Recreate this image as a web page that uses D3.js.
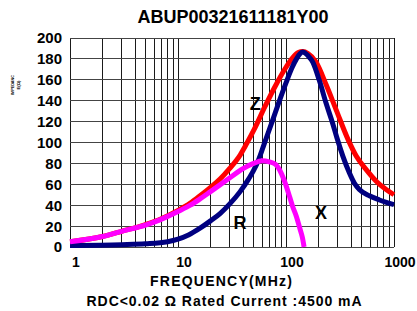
<!DOCTYPE html>
<html>
<head>
<meta charset="utf-8">
<script src="https://cdn.jsdelivr.net/npm/d3@7"></script>
<style>
  html, body { margin: 0; padding: 0; background: #fff; }
  svg { display: block; font-family: "Liberation Sans", Arial, sans-serif; }
</style>
</head>
<body>
<svg id="chart" width="417" height="311"></svg>
<script>
// ---- data ----
const title = "ABUP00321611181Y00";
const xTickValues = [1, 10, 100, 1000];
const xTickLabels = ["1", "10", "100", "1000"];
const yTickValues = [0, 20, 40, 60, 80, 100, 120, 140, 160, 180, 200];

// Z (impedance) curve  [MHz, ohm]
const zFreq = [1, 2, 3, 5, 7, 10, 13, 16, 20, 24.5, 30, 37.6, 43, 51, 63.6, 81.5, 100, 115, 130, 143, 160, 190, 236, 292, 375, 447, 553, 684, 846, 1000];
const zVal  = [5, 10, 15, 21.5, 27, 35, 42, 49, 57, 65, 75, 88, 98.5, 113, 134, 156, 172, 181, 186, 187, 185, 177, 155, 131, 103, 87, 74, 63, 55, 50];

// X (reactance) curve
const xFreq = [1, 3, 5, 8, 10, 12.5, 16, 20, 24.5, 30, 37.6, 45, 50, 56, 63, 75, 87, 100, 113, 125, 135, 143, 160, 177, 204, 236, 271, 297, 336, 386, 430, 478, 592, 733, 1000];
const xVal  = [1.5, 2.2, 3, 5, 7.5, 11.5, 18, 25, 32, 41, 53, 65, 73, 84, 99, 121, 140, 157, 171, 180, 185, 186.5, 183, 177, 159, 137, 118, 104, 87, 71, 61, 55, 49, 45, 40.5];

// R (resistance) curve
const rFreq = [1, 2, 3, 5, 6.8, 10, 13, 16, 20, 30, 40, 50, 60, 70, 80, 90, 100, 108, 115, 125, 135, 142, 147];
const rVal  = [5, 10, 15, 21, 26, 34, 40, 46, 53, 66, 75, 80, 82.5, 81.5, 79, 71, 59, 48, 39, 29, 17, 8.8, 0];

const curveLabels = [
  { text: "Z", f: 52, v: 137 },
  { text: "R", f: 37.5, v: 23 },
  { text: "X", f: 211, v: 33 }
];

// ---- layout ----
const svg = d3.select("#chart");
const mLeft = 70, mRight = 394, mTop = 38, mBottom = 247;
const font = "'Liberation Sans', Arial, sans-serif";

const x = d3.scaleLog().domain([1, 1000]).range([mLeft, mRight]);
const y = d3.scaleLinear().domain([0, 200]).range([mBottom, mTop]);

// grid: vertical log minor lines
const vGrid = [];
for (let k = 0; k < 3; k++) for (let m = 1; m < 10; m++) vGrid.push(m * Math.pow(10, k));
vGrid.push(1000);

svg.append("g").selectAll("line").data(vGrid).join("line")
  .attr("x1", d => x(d)).attr("x2", d => x(d))
  .attr("y1", mTop).attr("y2", mBottom)
  .attr("stroke", "#1a1a1a").attr("stroke-width", 1)
  .attr("shape-rendering", "crispEdges");

svg.append("g").selectAll("line").data(yTickValues).join("line")
  .attr("x1", mLeft).attr("x2", mRight)
  .attr("y1", d => y(d)).attr("y2", d => y(d))
  .attr("stroke", "#444").attr("stroke-width", 1)
  .attr("shape-rendering", "crispEdges");

// Y axis tick labels
svg.append("g").selectAll("text").data(yTickValues).join("text")
  .attr("x", 62).attr("y", d => y(d)).attr("dy", "0.36em")
  .attr("text-anchor", "end")
  .attr("font-family", font).attr("font-weight", "bold").attr("font-size", 15)
  .text(d => d);

// X axis tick labels
svg.append("g").selectAll("text").data(xTickValues).join("text")
  .attr("x", d => x(d) + 6).attr("y", 267)
  .attr("text-anchor", "middle")
  .attr("font-family", font).attr("font-weight", "bold").attr("font-size", 14)
  .text((d, i) => xTickLabels[i]);

// curves
const line = d3.line().x(d => x(d[0])).y(d => y(d[1])).curve(d3.curveMonotoneX);
const zip = (a, b) => a.map((v, i) => [v, b[i]]);

svg.append("path").datum(zip(zFreq, zVal)).attr("d", line)
  .attr("fill", "none").attr("stroke", "#ff0000").attr("stroke-width", 5)
  .attr("stroke-linejoin", "round");
svg.append("path").datum(zip(xFreq, xVal)).attr("d", line)
  .attr("fill", "none").attr("stroke", "#000080").attr("stroke-width", 5)
  .attr("stroke-linejoin", "round");
svg.append("path").datum(zip(rFreq, rVal)).attr("d", line)
  .attr("fill", "none").attr("stroke", "#ff00ff").attr("stroke-width", 5)
  .attr("stroke-linejoin", "round");

// curve labels
svg.append("g").selectAll("text").data(curveLabels).join("text")
  .attr("x", d => x(d.f)).attr("y", d => y(d.v)).attr("dy", "0.36em")
  .attr("text-anchor", "middle")
  .attr("font-family", font).attr("font-weight", "bold").attr("font-size", 18)
  .text(d => d.text);

// title
svg.append("text").attr("x", 233).attr("y", 23)
  .attr("text-anchor", "middle")
  .attr("font-family", font).attr("font-weight", "bold").attr("font-size", 18)
  .text(title);

// x axis title + note
svg.append("text").attr("x", 221).attr("y", 286)
  .attr("text-anchor", "middle")
  .attr("font-family", font).attr("font-weight", "bold").attr("font-size", 14)
  .attr("textLength", 142).attr("lengthAdjust", "spacing")
  .text("FREQUENCY(MHz)");

svg.append("text").attr("x", 224).attr("y", 306)
  .attr("text-anchor", "middle")
  .attr("font-family", font).attr("font-weight", "bold").attr("font-size", 14)
  .attr("textLength", 275).attr("lengthAdjust", "spacing")
  .text("RDC<0.02 Ω Rated Current :4500 mA");

// tiny y axis title (two rotated lines)
const yt = svg.append("g").attr("font-family", font).attr("font-size", 4.2).attr("font-weight", "bold");
yt.append("text").attr("transform", "translate(14,85) rotate(-90)")
  .attr("text-anchor", "middle").attr("textLength", 20).attr("lengthAdjust", "spacingAndGlyphs")
  .text("IMPEDANC");
yt.append("text").attr("transform", "translate(20,85) rotate(-90)")
  .attr("text-anchor", "middle")
  .text("E(Ω)");
</script>
</body>
</html>
